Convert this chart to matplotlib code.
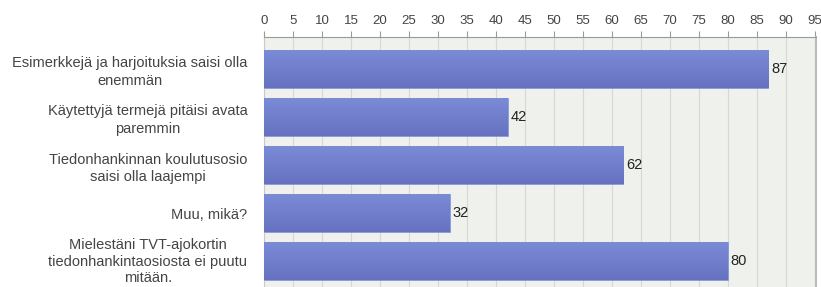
import numpy as np
import matplotlib
matplotlib.use('Agg')
import matplotlib.pyplot as plt

# Chart data
categories = [
    'Esimerkkejä ja harjoituksia saisi olla\nenemmän',
    'Käytettyjä termejä pitäisi avata\nparemmin',
    'Tiedonhankinnan koulutusosio\nsaisi olla laajempi',
    'Muu, mikä?',
    'Mielestäni TVT-ajokortin\ntiedonhankintaosiosta ei puutu\nmitään.',
]
values = [87, 42, 62, 32, 80]
x_ticks = list(range(0, 100, 5))

plt.rcParams['font.family'] = ['Liberation Sans', 'DejaVu Sans']

fig = plt.figure(figsize=(8.21, 2.87), dpi=100)
W, H = 821, 287
# axes box in pixels: left 264, top 37.5, right 816, bottom 292.5 (runs past the image)
ax = fig.add_axes([264 / W, 1 - 292.5 / H, (816 - 264) / W, 255 / H])
ax.set_facecolor('#eef1ec')

y = np.arange(len(categories))
bar_h = 0.79
bars = ax.barh(y, values, height=bar_h, color='#6f7ecb', edgecolor='#8a98dc', linewidth=0.6, zorder=3)

# soft vertical gradient inside each bar
grad = np.linspace(0, 1, 64).reshape(-1, 1)
cmap = matplotlib.colors.LinearSegmentedColormap.from_list('bar', ['#7b8bd6', '#6672c0'])
for b in bars:
    x0, y0 = b.get_x(), b.get_y()
    im = ax.imshow(grad, cmap=cmap, aspect='auto', zorder=3.5,
                   extent=[x0, x0 + b.get_width(), y0 + b.get_height(), y0],
                   interpolation='bicubic')
    im.set_clip_path(b)

ax.bar_label(bars, labels=[str(v) for v in values], padding=2, fontsize=10.5, color='#222222', zorder=5)

ax.set_xlim(0, 95.2)
ax.set_ylim(4.5 + 0.156, -0.5 - 0.156)

ax.xaxis.tick_top()
ax.set_xticks(x_ticks)
ax.set_xticklabels([str(t) for t in x_ticks])
ax.tick_params(axis='x', direction='out', length=4, width=0.8, color='#999999',
               labelsize=9.5, labelcolor='#444444', pad=3.5)
ax.grid(axis='x', color='#d6d8d4', linewidth=0.8, zorder=1)

ax.set_yticks(y)
ax.set_yticklabels(categories, fontsize=10.5, color='#444444', multialignment='center', linespacing=1.35)
ax.tick_params(axis='y', length=0, pad=12)
# the three-line label sits a touch higher so its last line stays inside the image
last = ax.get_yticklabels()[-1]
last.set_linespacing(1.22)
last.set_transform(last.get_transform() + matplotlib.transforms.ScaledTranslation(0, 2 / 100, fig.dpi_scale_trans))

ax.spines['top'].set_color('#999999')
ax.spines['left'].set_color('#c8ccc6')
ax.spines['right'].set_color('#b8bcb6')
ax.spines['right'].set_linewidth(1.5)
ax.spines['bottom'].set_visible(False)

fig.savefig('out.png', dpi=100, facecolor='white')
